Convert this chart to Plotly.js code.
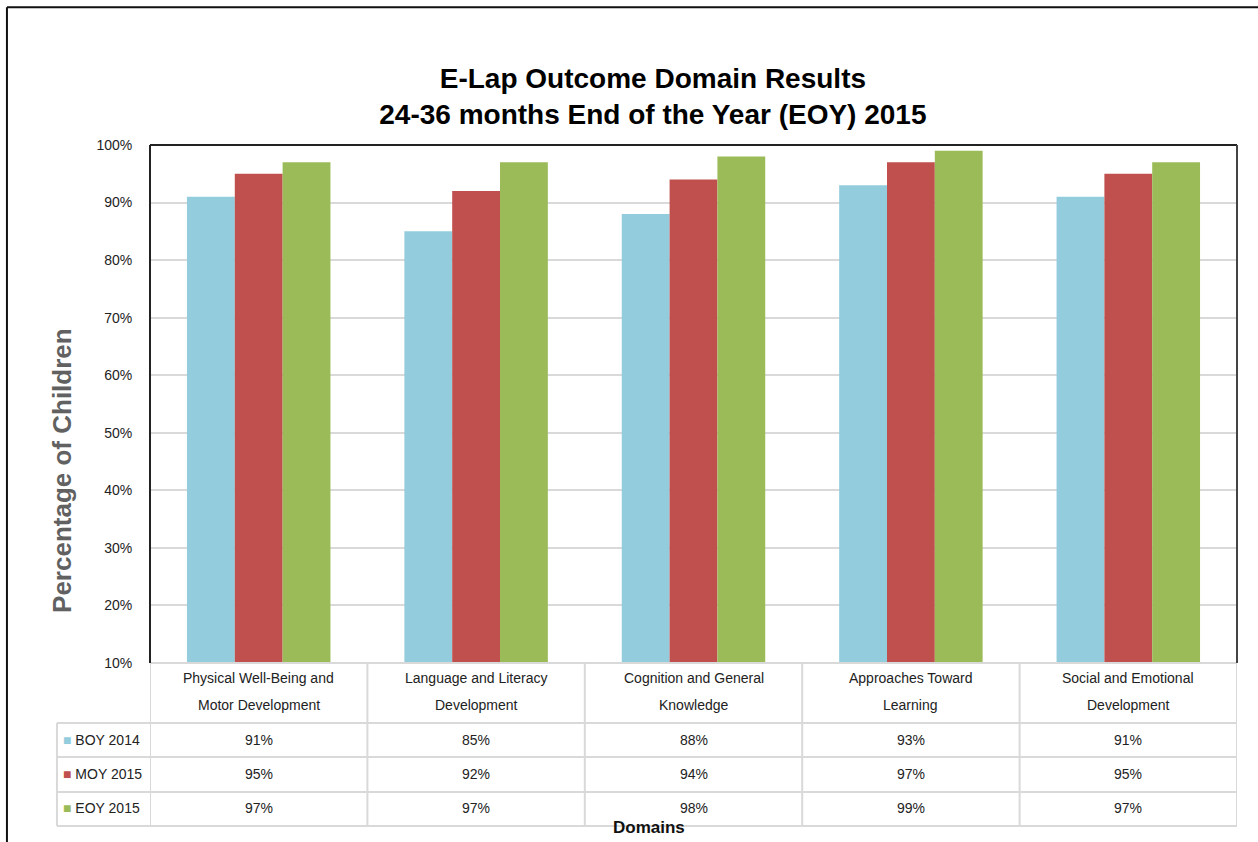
<!DOCTYPE html>
<html>
<head>
<meta charset="utf-8">
<script src="https://cdn.plot.ly/plotly-3.0.1.min.js"></script>
<style>
  body { margin: 0; background: #fff; }
  #chart { width: 1258px; height: 842px; }
</style>
</head>
<body>
<div id="chart"></div>
<script>
// Domains (x categories)
var domains = [
  "Physical Well-Being and<br>Motor Development",
  "Language and Literacy<br>Development",
  "Cognition and General<br>Knowledge",
  "Approaches Toward<br>Learning",
  "Social and Emotional<br>Development"
];

// series values (percent)
var boy2014 = [91, 85, 88, 93, 91];
var moy2015 = [95, 92, 94, 97, 95];
var eoy2015 = [97, 97, 98, 99, 97];

var seriesNames = ["BOY 2014", "MOY 2015", "EOY 2015"];
var seriesColors = ["#93CDDD", "#C0504D", "#9BBB59"];
var seriesValues = [boy2014, moy2015, eoy2015];

var yTicks = [10, 20, 30, 40, 50, 60, 70, 80, 90, 100];

var sans = "Liberation Sans, Arial, sans-serif";
var idx = domains.map(function (d, i) { return i; });

var data = seriesNames.map(function (name, s) {
  return {
    x: idx,
    y: seriesValues[s],
    name: name,
    type: "bar",
    marker: { color: seriesColors[s] },
    hoverinfo: "y"
  };
});

// table rows (paper y for row centers)
var rowY = [-0.1486, -0.2143, -0.2800];
var headerLineY = [-0.029, -0.081];
var gridColor = "#D9D9D9";
var cellFont = { family: sans, size: 14, color: "#222" };

var annotations = [];
var shapes = [];

// category header cells (two lines each, wider spacing like the original)
domains.forEach(function (d, i) {
  d.split("<br>").forEach(function (line, j) {
    annotations.push({
      x: i, y: headerLineY[j], xref: "x", yref: "paper", yanchor: "middle",
      text: line, showarrow: false, font: cellFont
    });
  });
});

// value cells + legend keys
seriesValues.forEach(function (vals, s) {
  vals.forEach(function (v, i) {
    annotations.push({
      x: i, y: rowY[s], xref: "x", yref: "paper", yanchor: "middle",
      text: v + "%", showarrow: false, font: cellFont
    });
  });
  annotations.push({
    x: -0.082, y: rowY[s], xref: "paper", yref: "paper",
    xanchor: "left", yanchor: "middle",
    text: '<span style="color:' + seriesColors[s] + '">■</span> ' + seriesNames[s],
    showarrow: false, font: cellFont
  });
});

// axis titles
annotations.push({
  x: -0.081, y: 0.3726, xref: "paper", yref: "paper",
  xanchor: "center", yanchor: "middle",
  text: "<b>Percentage of Children</b>", textangle: -90, showarrow: false,
  font: { family: sans, size: 26, color: "#616161" }
});
annotations.push({
  x: 0.459, y: -0.318, xref: "paper", yref: "paper", yanchor: "middle",
  text: "<b>Domains</b>", showarrow: false,
  font: { family: sans, size: 17, color: "#111" }
});

// table grid lines: horizontal
var hLines = [
  { y: 0, x0: 0 },
  { y: -0.1158, x0: -0.0856 },
  { y: -0.1815, x0: -0.0856 },
  { y: -0.2490, x0: -0.0856 },
  { y: -0.3147, x0: -0.0856 }
];
hLines.forEach(function (h) {
  shapes.push({
    type: "line", xref: "paper", yref: "paper",
    x0: h.x0, x1: 1, y0: h.y, y1: h.y,
    line: { color: gridColor, width: 2 }
  });
});
// vertical lines
shapes.push({
  type: "line", xref: "paper", yref: "paper",
  x0: -0.0856, x1: -0.0856, y0: -0.1158, y1: -0.3147,
  line: { color: gridColor, width: 2 }
});
for (var k = 0; k <= domains.length; k++) {
  shapes.push({
    type: "line", xref: "x", yref: "paper",
    x0: k - 0.5, x1: k - 0.5, y0: 0, y1: -0.3147,
    line: { color: gridColor, width: 2 }
  });
}
// plot frame (top, left, right)
shapes.push({ type: "line", xref: "paper", yref: "paper", x0: 0, x1: 1, y0: 1, y1: 1, line: { color: "#222", width: 2 } });
shapes.push({ type: "line", xref: "paper", yref: "paper", x0: 0, x1: 0, y0: 0, y1: 1, line: { color: "#222", width: 2 } });
shapes.push({ type: "line", xref: "paper", yref: "paper", x0: 1, x1: 1, y0: 0, y1: 1, line: { color: "#444", width: 2 } });
// outer picture frame (top and left edges)
shapes.push({ type: "line", xref: "paper", yref: "paper", x0: -0.1316, x1: 1.02, y0: 1.266, y1: 1.266, line: { color: "#111", width: 2 } });
shapes.push({ type: "line", xref: "paper", yref: "paper", x0: -0.1316, x1: -0.1316, y0: 1.266, y1: -0.35, line: { color: "#111", width: 2 } });

var layout = {
  width: 1258,
  height: 842,
  margin: { l: 150, r: 21, t: 145, b: 179 },
  paper_bgcolor: "#fff",
  plot_bgcolor: "#fff",
  showlegend: false,
  bargap: 0.34,
  bargroupgap: 0,
  title: {
    text: "<b>E-Lap Outcome Domain Results<br>24-36 months End of the Year (EOY) 2015</b>",
    x: 0.519, xanchor: "center",
    y: 0.896, yanchor: "middle",
    font: { family: sans, size: 28, color: "#000" }
  },
  xaxis: {
    range: [-0.5, 4.5],
    showticklabels: false,
    showgrid: false,
    zeroline: false,
    ticks: ""
  },
  yaxis: {
    range: [10, 100],
    tickvals: yTicks,
    ticktext: yTicks.map(function (t) { return t + "%"; }),
    showgrid: true,
    gridcolor: gridColor,
    gridwidth: 2,
    zeroline: false,
    ticks: "outside",
    ticklen: 14,
    tickcolor: "rgba(0,0,0,0)",
    tickfont: { family: sans, size: 14, color: "#222" }
  },
  annotations: annotations,
  shapes: shapes
};

Plotly.newPlot("chart", data, layout, { displayModeBar: false, staticPlot: true });
</script>
</body>
</html>
